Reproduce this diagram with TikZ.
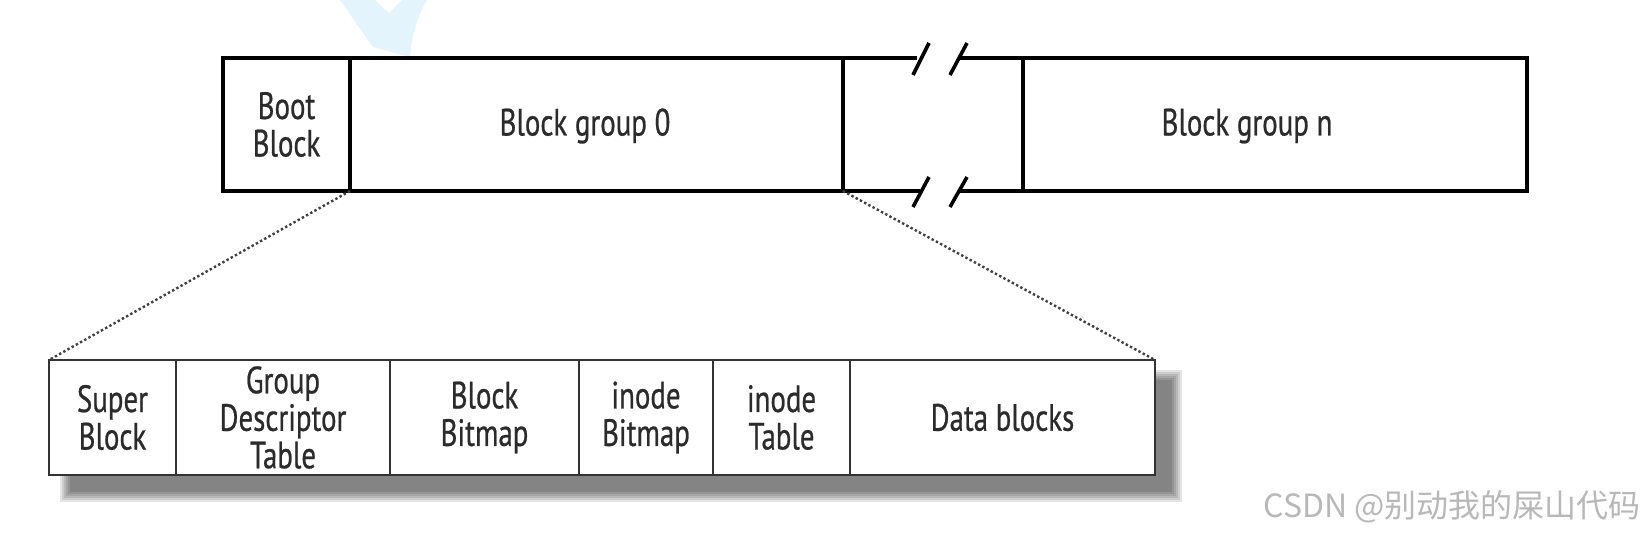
\documentclass[tikz,border=0pt]{standalone}
\usepackage{fontspec}
\newfontfamily\lab{PT Sans}[FakeStretch=0.76,FakeBold=0.6]
\newfontfamily\cjk{Noto Sans CJK SC}
\definecolor{cursorblue}{HTML}{E3F4FC}
\definecolor{ink}{HTML}{2B2B2B}
\begin{document}
\begin{tikzpicture}[x=1pt,y=-1pt,
  lbl/.style={font=\lab\fontsize{38}{37.5}\selectfont, text=ink, align=center, inner sep=0pt, outer sep=0pt},
  topcell/.style={lbl, draw=black, line width=3.6pt, minimum height=133pt},
  botcell/.style={lbl, draw=black!80, line width=2.6pt, minimum height=115pt, fill=white},
  gapline/.style={draw=black, line width=3.6pt},
  slash/.style={draw=black, line width=3.6pt},
  dotline/.style={draw=black!75, line width=2.4pt, dash pattern=on 2.4pt off 2.4pt},
  shade/.style={fill=black, opacity=0.1}
]
\useasboundingbox (0,0) rectangle (1646,534);
\fill[white] (0,0) rectangle (1646,534);
% light blue cursor remnant
\fill[cursorblue] (340,0) -- (373,47) -- (410,57) .. controls (412,30) and (420,12) .. (427,0) -- (402,0) -- (389,13) -- (375,0) -- cycle;

% top bar
\node[topcell, minimum width=127pt] (boot) at (286.5,124.5) {Boot\\Block};
\node[topcell, minimum width=493pt] (bg0) at (596.5,124.5) {};
\node[topcell, minimum width=504pt] (bgn) at (1275,124.5) {};
\node[lbl] (bg0t) at (585,126) {Block group 0};
\node[lbl] (bgnt) at (1247,126) {Block group n};
\coordinate (gtl) at (917,58);
\coordinate (gtr) at (960,58);
\coordinate (gbl) at (920,191);
\coordinate (gbr) at (960,191);
\draw[gapline] (bg0.north east) -- (gtl);
\draw[gapline] (gtr) -- (bgn.north west);
\draw[gapline] (bg0.south east) -- (gbl);
\draw[gapline] (gbr) -- (bgn.south west);
\coordinate (s1a) at (913,75); \coordinate (s1b) at (929,43);
\coordinate (s2a) at (950,75); \coordinate (s2b) at (967,43);
\coordinate (s3a) at (913,207); \coordinate (s3b) at (929,177);
\coordinate (s4a) at (950,207); \coordinate (s4b) at (967,177);
\draw[slash] (s1a) -- (s1b);
\draw[slash] (s2a) -- (s2b);
\draw[slash] (s3a) -- (s3b);
\draw[slash] (s4a) -- (s4b);

% shadow of bottom bar
\foreach \i in {0,2,4,6,8,10} {
  \fill[shade] (60+\i,370+\i) rectangle (1182-\i,502-\i);
}

% bottom bar
\node[botcell, minimum width=127pt] (super) at (112.5,417.5) {Super\\Block};
\node[botcell, minimum width=214pt] (gdt) at (283,417.5) {Group\\Descriptor\\Table};
\node[botcell, minimum width=189pt] (bb) at (484.5,417.5) {Block\\Bitmap};
\node[botcell, minimum width=134pt] (ib) at (646,417.5) {inode\\Bitmap};
\node[botcell, minimum width=137pt] (it) at (781.5,417.5) {inode\\Table};
\node[botcell, minimum width=305pt] (data) at (1002.5,417.5) {Data blocks};

% dotted connectors
\draw[dotline] (boot.south east) -- (super.north west);
\draw[dotline] (bg0.south east) -- (data.north east);

% watermark
\node[font=\cjk\fontsize{32}{32}\selectfont, text=black!28, anchor=east, inner sep=0pt] (wm) at (1641,507) {CSDN @别动我的屎山代码};
\end{tikzpicture}
\end{document}
